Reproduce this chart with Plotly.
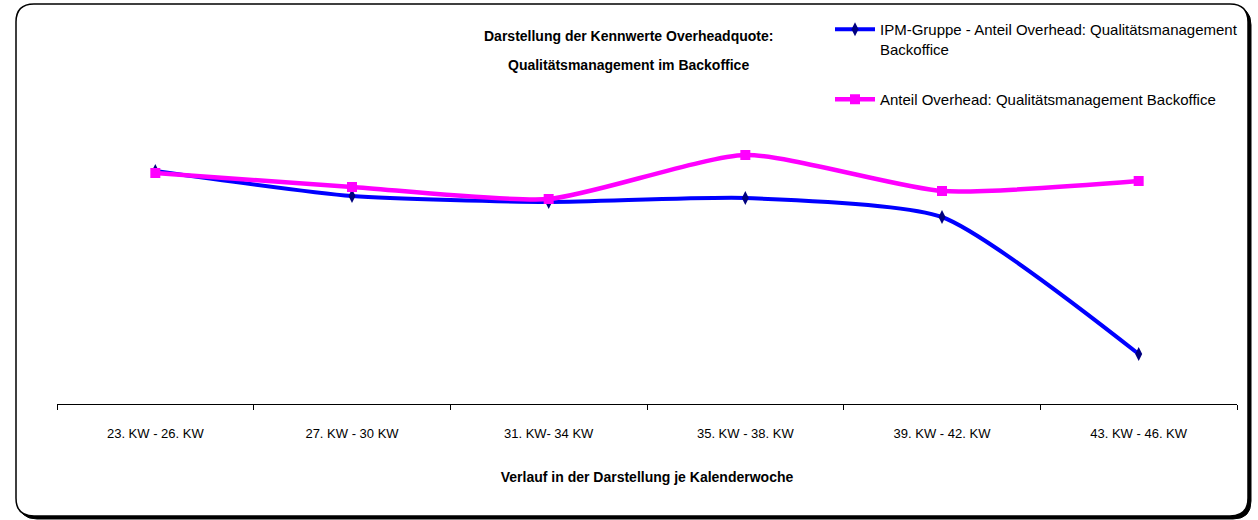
import plotly.graph_objects as go

categories = ["23. KW - 26. KW", "27. KW - 30 KW", "31. KW- 34 KW",
              "35. KW - 38. KW", "39. KW - 42. KW", "43. KW - 46. KW"]
ipm_gruppe = [0.233, 0.208, 0.202, 0.206, 0.187, 0.050]
anteil_backoffice = [0.231, 0.217, 0.205, 0.249, 0.213, 0.223]

name_ipm = "IPM-Gruppe - Anteil Overhead: Qualitätsmanagement<br>Backoffice"
name_bo = "Anteil Overhead: Qualitätsmanagement Backoffice"
title_line1 = "Darstellung der Kennwerte Overheadquote:"
title_line2 = "Qualitätsmanagement im Backoffice"
xaxis_title = "Verlauf in der Darstellung je Kalenderwoche"

W, H = 1258, 520
L, R, T, B = 57, 1237, 24, 404  # plot area in pixels
FONT = "Liberation Sans Narrow, Arial Narrow, Liberation Sans, Arial, sans-serif"

def px(x):
    return (x - L) / (R - L)

def py(y):
    return (B - y) / (B - T)

def rounded_rect(x0, y0, x1, y1, r):
    return (f"M {px(x0 + r)},{py(y0)} L {px(x1 - r)},{py(y0)} "
            f"Q {px(x1)},{py(y0)} {px(x1)},{py(y0 + r)} "
            f"L {px(x1)},{py(y1 - r)} Q {px(x1)},{py(y1)} {px(x1 - r)},{py(y1)} "
            f"L {px(x0 + r)},{py(y1)} Q {px(x0)},{py(y1)} {px(x0)},{py(y1 - r)} "
            f"L {px(x0)},{py(y0 + r)} Q {px(x0)},{py(y0)} {px(x0 + r)},{py(y0)} Z")

fig = go.Figure()
fig.add_trace(go.Scatter(
    x=categories, y=ipm_gruppe, name=name_ipm, mode="lines+markers",
    legendgroup="a",
    line=dict(color="#0000FF", width=4, shape="spline", smoothing=0.6),
    marker=dict(symbol="diamond-tall", size=10, color="#000080",
                line=dict(width=0)),
))
fig.add_trace(go.Scatter(
    x=categories, y=anteil_backoffice, name=name_bo, mode="lines+markers",
    legendgroup="b",
    line=dict(color="#FF00FF", width=4.5, shape="spline", smoothing=0.6),
    marker=dict(symbol="square", size=10, color="#FF00FF", line=dict(width=0)),
))

shapes = [
    dict(type="path", xref="paper", yref="paper", layer="below",
         path=rounded_rect(19, 7, 1251, 519, 18),
         fillcolor="#000000", line=dict(color="#000000", width=1)),
    dict(type="path", xref="paper", yref="paper", layer="below",
         path=rounded_rect(16, 4, 1248, 516, 18),
         fillcolor="#FFFFFF", line=dict(color="#000000", width=1.5)),
]

title_font = dict(family=FONT, size=14, color="#000000")

fig.update_layout(
    width=W, height=H,
    margin=dict(l=L, r=W - R, t=T, b=H - B, autoexpand=False),
    paper_bgcolor="white", plot_bgcolor="rgba(0,0,0,0)",
    shapes=shapes,
    showlegend=True,
    legend=dict(x=px(830), y=py(13), xanchor="left", yanchor="top",
                font=dict(family=FONT, size=15, color="#000000"),
                bgcolor="rgba(0,0,0,0)", valign="top", tracegroupgap=28,
                traceorder="grouped", itemwidth=40),
    annotations=[
        dict(text="<b>" + title_line1 + "</b>", xref="paper", yref="paper",
             x=px(628), y=py(36), xanchor="center", yanchor="middle",
             showarrow=False, font=title_font),
        dict(text="<b>" + title_line2 + "</b>", xref="paper", yref="paper",
             x=px(628), y=py(65), xanchor="center", yanchor="middle",
             showarrow=False, font=title_font),
    ],
    xaxis=dict(
        type="category", range=[-0.5, 5.5], showline=True, linecolor="#000000",
        linewidth=1, ticks="outside", tickson="boundaries", ticklen=5,
        tickcolor="#000000", showgrid=False, zeroline=False,
        ticklabelstandoff=17,
        tickfont=dict(family=FONT, size=13, color="#000000"),
        title=dict(text="<b>" + xaxis_title + "</b>", standoff=32,
                   font=title_font),
    ),
    yaxis=dict(range=[0, 0.38], visible=False, showgrid=False, zeroline=False),
)

fig.write_html("out.html", config={"displayModeBar": False},
               post_script="document.body.style.margin='0px';")
